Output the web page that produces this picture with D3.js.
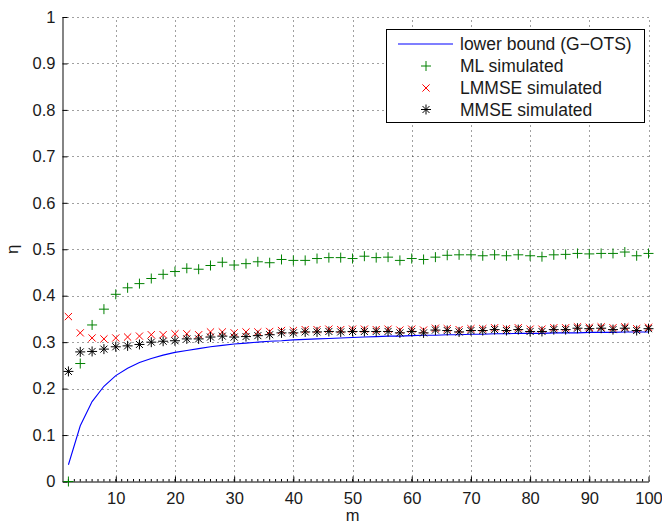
<!DOCTYPE html>
<html>
<head>
<meta charset="utf-8">
<script src="https://cdn.jsdelivr.net/npm/d3@7"></script>
<style>
  body { margin: 0; background: #fff; }
  text { font-family: "Liberation Sans", Arial, Helvetica, sans-serif; }
</style>
</head>
<body>
<svg id="chart"></svg>
<script>
const width = 662, height = 524;

// m = 2, 4, ..., 100
const mVals = d3.range(2, 101, 2);

const lowerBound = [0.036, 0.120, 0.172, 0.205, 0.228, 0.244, 0.256, 0.265, 0.272, 0.278,
  0.282, 0.286, 0.290, 0.293, 0.296, 0.298, 0.300, 0.302, 0.303, 0.305,
  0.306, 0.307, 0.308, 0.309, 0.310, 0.311, 0.312, 0.313, 0.313, 0.314,
  0.315, 0.315, 0.316, 0.316, 0.317, 0.317, 0.318, 0.318, 0.319, 0.319,
  0.319, 0.320, 0.320, 0.320, 0.321, 0.321, 0.321, 0.322, 0.322, 0.322];

const mlSim = [0.000, 0.254, 0.337, 0.371, 0.403, 0.417, 0.426, 0.437, 0.446, 0.452,
  0.459, 0.457, 0.465, 0.472, 0.466, 0.469, 0.473, 0.471, 0.478, 0.476,
  0.476, 0.480, 0.482, 0.482, 0.480, 0.485, 0.482, 0.483, 0.476, 0.480,
  0.478, 0.483, 0.487, 0.488, 0.488, 0.486, 0.488, 0.486, 0.488, 0.486,
  0.484, 0.488, 0.489, 0.491, 0.490, 0.491, 0.491, 0.494, 0.486, 0.491];

const lmmseSim = [0.355, 0.320, 0.309, 0.307, 0.309, 0.311, 0.313, 0.316, 0.316, 0.318,
  0.318, 0.316, 0.322, 0.322, 0.320, 0.322, 0.322, 0.323, 0.325, 0.325,
  0.327, 0.327, 0.328, 0.327, 0.328, 0.328, 0.327, 0.328, 0.326, 0.328,
  0.326, 0.330, 0.329, 0.327, 0.329, 0.329, 0.331, 0.329, 0.331, 0.328,
  0.328, 0.331, 0.331, 0.333, 0.332, 0.333, 0.331, 0.333, 0.329, 0.332];

const mmseSim = [0.237, 0.279, 0.280, 0.285, 0.290, 0.292, 0.295, 0.300, 0.302, 0.303,
  0.307, 0.307, 0.311, 0.313, 0.311, 0.312, 0.314, 0.316, 0.320, 0.320,
  0.322, 0.322, 0.323, 0.322, 0.323, 0.323, 0.323, 0.323, 0.320, 0.323,
  0.320, 0.326, 0.325, 0.322, 0.325, 0.325, 0.327, 0.325, 0.327, 0.323,
  0.323, 0.327, 0.327, 0.330, 0.329, 0.330, 0.327, 0.330, 0.325, 0.329];

const xTicks = [10, 20, 30, 40, 50, 60, 70, 80, 90, 100];
const yTicks = [0, 0.1, 0.2, 0.3, 0.4, 0.5, 0.6, 0.7, 0.8, 0.9, 1];
const legendLabels = ["lower bound (G\u2212OTS)", "ML simulated", "LMMSE simulated", "MMSE simulated"];

const margin = {left: 62.5, right: 13.5, top: 17, bottom: 42.5};

const svg = d3.select("#chart")
  .attr("width", width)
  .attr("height", height);

const x = d3.scaleLinear().domain([1, 100]).range([margin.left, width - margin.right]);
const y = d3.scaleLinear().domain([0, 1]).range([height - margin.bottom, margin.top]);

// grid
const grid = svg.append("g")
  .attr("stroke", "#000")
  .attr("stroke-opacity", 0.75)
  .attr("stroke-width", 1)
  .attr("stroke-dasharray", "1,4");
grid.selectAll("line.v")
  .data(xTicks)
  .enter().append("line")
  .attr("x1", d => Math.round(x(d)) + 0.5).attr("x2", d => Math.round(x(d)) + 0.5)
  .attr("y1", y(0)).attr("y2", y(1));
grid.selectAll("line.h")
  .data(yTicks.slice(1))
  .enter().append("line")
  .attr("class", "h")
  .attr("x1", x(1)).attr("x2", x(100))
  .attr("y1", d => Math.round(y(d)) + 0.5).attr("y2", d => Math.round(y(d)) + 0.5);

// axes
const xAxis = svg.append("g")
  .attr("transform", `translate(0,${y(0)})`)
  .call(d3.axisBottom(x).tickValues(xTicks).tickSize(-5).tickPadding(11).tickSizeOuter(0));
xAxis.append("g").selectAll("line")
  .data(d3.range(2, 100))
  .enter().append("line")
  .attr("x1", d => x(d)).attr("x2", d => x(d))
  .attr("y1", 0).attr("y2", -2.5)
  .attr("stroke", "#000");

const yAxis = svg.append("g")
  .attr("transform", `translate(${x(1)},0)`)
  .call(d3.axisLeft(y).tickValues(yTicks).tickFormat(d3.format("~g")).tickSize(-5).tickPadding(7).tickSizeOuter(0));

[xAxis, yAxis].forEach(a => {
  a.selectAll("text").attr("font-size", 16.5).attr("fill", "#1a1a1a")
    .style("font-family", "'Liberation Sans', Arial, sans-serif");
  a.selectAll(".tick line").attr("stroke", "#000");
});
xAxis.select(".domain").attr("stroke", "#000");
yAxis.select(".domain").attr("stroke", "#666").attr("stroke-width", 1.6);

svg.append("text")
  .attr("x", x(50)).attr("y", 521)
  .attr("text-anchor", "middle")
  .attr("font-size", 16.5).attr("fill", "#1a1a1a")
  .text("m");

svg.append("text")
  .attr("transform", `translate(18,${y(0.5)}) rotate(-90)`)
  .attr("text-anchor", "middle")
  .attr("font-size", 17).attr("fill", "#1a1a1a")
  .text("\u03b7");

// markers
const plusPath = "M-5,0H5M0,-5V5";
const xPath = "M-3.6,-3.6L3.6,3.6M-3.6,3.6L3.6,-3.6";
const starPath = "M-5,0H5M0,-5V5M-3.5,-3.5L3.5,3.5M-3.5,3.5L3.5,-3.5";

const line = d3.line().x((d, i) => x(mVals[i])).y(d => y(d));
svg.append("path")
  .datum(lowerBound)
  .attr("d", line)
  .attr("fill", "none")
  .attr("stroke", "#0000ff")
  .attr("stroke-width", 1.1);

function drawMarkers(vals, pathD, color) {
  svg.append("g").selectAll("path")
    .data(vals)
    .enter().append("path")
    .attr("transform", (d, i) => `translate(${x(mVals[i])},${y(d)})`)
    .attr("d", pathD)
    .attr("fill", "none")
    .attr("stroke", color)
    .attr("stroke-width", 1);
}
drawMarkers(mlSim, plusPath, "#008000");
drawMarkers(lmmseSim, xPath, "#ff0000");
drawMarkers(mmseSim, starPath, "#000000");

// legend
const lg = svg.append("g");
lg.append("rect")
  .attr("x", 386.5).attr("y", 29.5)
  .attr("width", 258).attr("height", 93)
  .attr("fill", "#fff").attr("stroke", "#000").attr("stroke-width", 1);
const rowY = [44, 66, 88, 109.5];
lg.append("line")
  .attr("x1", 398).attr("x2", 453)
  .attr("y1", rowY[0]).attr("y2", rowY[0])
  .attr("stroke", "#0000ff").attr("stroke-width", 1.1);
[[plusPath, "#008000"], [xPath, "#ff0000"], [starPath, "#000"]].forEach(([p, c], i) => {
  lg.append("path")
    .attr("transform", `translate(426,${rowY[i + 1]})`)
    .attr("d", p).attr("fill", "none").attr("stroke", c);
});
lg.selectAll("text")
  .data(legendLabels)
  .enter().append("text")
  .attr("x", 460)
  .attr("y", (d, i) => rowY[i] + 6)
  .attr("font-size", 17.5)
  .attr("fill", "#1a1a1a")
  .text(d => d);
</script>
</body>
</html>
